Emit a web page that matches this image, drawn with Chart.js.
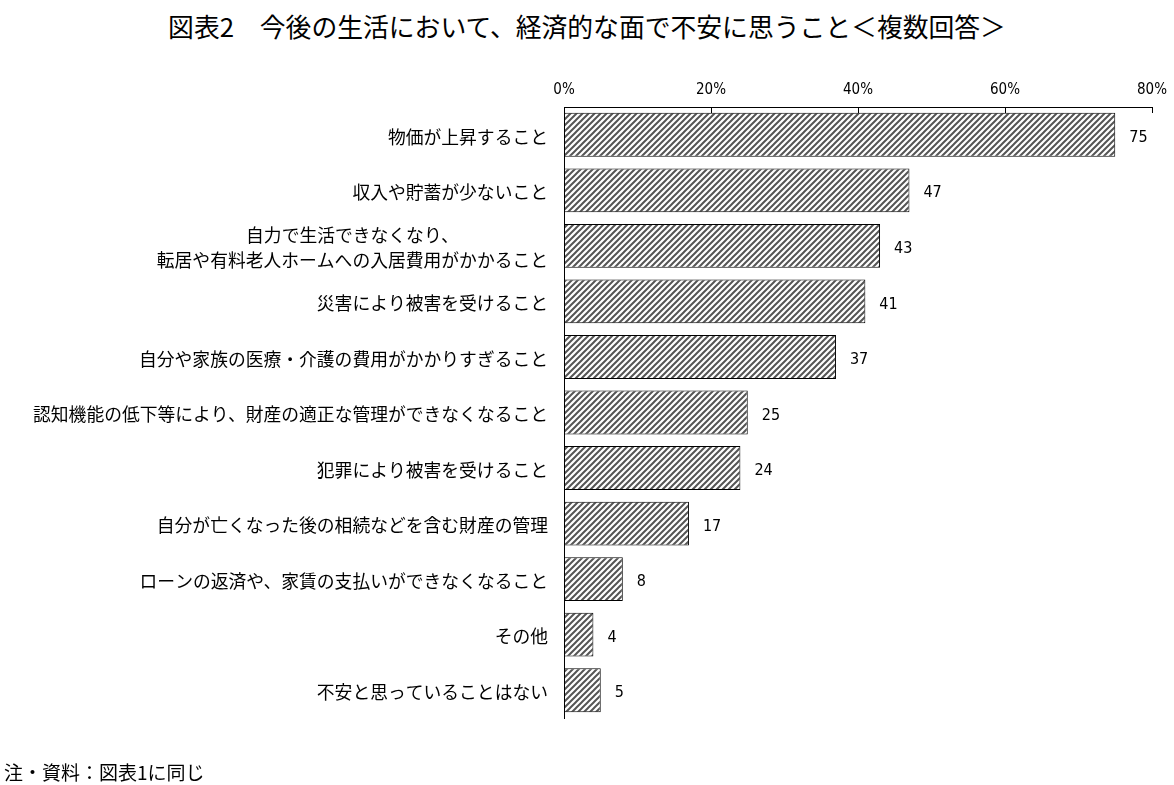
<!DOCTYPE html>
<html>
<head>
<meta charset="utf-8">
<script src="https://cdn.jsdelivr.net/npm/chart.js@4.4.1/dist/chart.umd.min.js"></script>
<style>
  html, body { margin: 0; padding: 0; background: #fff; }
  #wrap { position: relative; width: 1174px; height: 785px; }
  #title {
    position: absolute; left: 0; top: 9px; width: 1174px; text-align: center;
    font-family: "Noto Sans CJK JP", sans-serif; font-size: 25.8px; color: #000; line-height: 34px;
  }
  #note {
    position: absolute; left: 4px; top: 758px;
    font-family: "Noto Sans CJK JP", sans-serif; font-size: 19px; color: #000; line-height: 28px;
  }
  canvas { position: absolute; left: 0; top: 0; }
</style>
</head>
<body>
<div id="wrap">
  <div id="title">図表2　今後の生活において、経済的な面で不安に思うこと＜複数回答＞</div>
  <canvas id="chart" width="1174" height="785"></canvas>
  <div id="note">注・資料：図表1に同じ</div>
</div>
<script>
// categories, top to bottom
const categories = [
  '物価が上昇すること',
  '収入や貯蓄が少ないこと',
  ['自力で生活できなくなり、', '転居や有料老人ホームへの入居費用がかかること'],
  '災害により被害を受けること',
  '自分や家族の医療・介護の費用がかかりすぎること',
  '認知機能の低下等により、財産の適正な管理ができなくなること',
  '犯罪により被害を受けること',
  '自分が亡くなった後の相続などを含む財産の管理',
  'ローンの返済や、家賃の支払いができなくなること',
  'その他',
  '不安と思っていることはない'
];
const values = [75, 47, 43, 41, 37, 25, 24, 17, 8, 4, 5];
const tickValues = [0, 20, 40, 60, 80];

const numFont = '"Liberation Sans Narrow", "DejaVu Sans Condensed", "Liberation Sans", sans-serif';
const jpFont = '"Noto Sans CJK JP", sans-serif';

// diagonal hatch fill
function makeHatch() {
  const c = document.createElement('canvas');
  c.width = 6; c.height = 6;
  const g = c.getContext('2d');
  g.fillStyle = '#ffffff';
  g.fillRect(0, 0, 6, 6);
  g.strokeStyle = '#555555';
  g.lineWidth = 2;
  g.beginPath();
  g.moveTo(-1, 7); g.lineTo(7, -1);
  g.moveTo(-4, 4); g.lineTo(4, -4);
  g.moveTo(2, 10); g.lineTo(10, 2);
  g.stroke();
  return g.createPattern(c, 'repeat');
}

const ctx = document.getElementById('chart').getContext('2d');

// tick marks pointing into the plot, labels on the left, numbers at bar ends
const decor = {
  id: 'decor',
  afterDraw(chart) {
    const c = chart.ctx;
    const xs = chart.scales.x, ys = chart.scales.y;
    const top = chart.chartArea.top;
    c.save();
    c.strokeStyle = '#000';
    c.lineWidth = 1;
    tickValues.forEach(v => {
      const px = Math.round(xs.getPixelForValue(v)) + 0.5;
      c.beginPath();
      c.moveTo(px, top);
      c.lineTo(px, top + 6);
      c.stroke();
    });

    // category labels
    c.fillStyle = '#000';
    c.font = '17.8px ' + jpFont;
    c.textBaseline = 'middle';
    c.textAlign = 'center';
    categories.forEach((lab, i) => {
      const lines = Array.isArray(lab) ? lab : [lab];
      const w = Math.max(...lines.map(l => c.measureText(l).width));
      const cx = 548 - w / 2;
      const cy = ys.getPixelForValue(i) + 2;
      const lh = 25;
      lines.forEach((l, k) => {
        c.fillText(l, cx, cy + (k - (lines.length - 1) / 2) * lh);
      });
    });

    // values
    c.font = '16px ' + numFont;
    c.textAlign = 'left';
    const meta = chart.getDatasetMeta(0);
    meta.data.forEach((bar, i) => {
      c.fillText(String(values[i]), bar.x + 14, bar.y + 3);
    });
    c.restore();
  }
};

new Chart(ctx, {
  type: 'bar',
  data: {
    labels: categories,
    datasets: [{
      data: values,
      backgroundColor: makeHatch(),
      borderColor: '#000',
      borderWidth: 1,
      borderSkipped: false,
      barPercentage: 0.79,
      categoryPercentage: 1
    }]
  },
  options: {
    indexAxis: 'y',
    responsive: false,
    animation: false,
    layout: { padding: { top: 67, right: 22, bottom: 67, left: 0 } },
    plugins: {
      legend: { display: false },
      tooltip: { enabled: false }
    },
    scales: {
      x: {
        position: 'top',
        min: 0,
        max: 80,
        afterBuildTicks(scale) {
          scale.ticks = tickValues.map(v => ({ value: v }));
        },
        afterFit(scale) {
          scale.height = 40;
          scale.paddingLeft = 0;
          scale.paddingRight = 0;
        },
        grid: { display: false, drawTicks: false },
        border: { display: true, color: '#000', width: 1 },
        ticks: {
          padding: 8,
          maxRotation: 0,
          color: '#000',
          font: { family: numFont, size: 15 },
          callback: v => v + '%'
        }
      },
      y: {
        position: 'left',
        afterFit(scale) { scale.width = 564; },
        grid: { display: false, drawTicks: false },
        border: { display: true, color: '#000', width: 1 },
        ticks: { display: false }
      }
    }
  },
  plugins: [decor]
});
</script>
</body>
</html>
